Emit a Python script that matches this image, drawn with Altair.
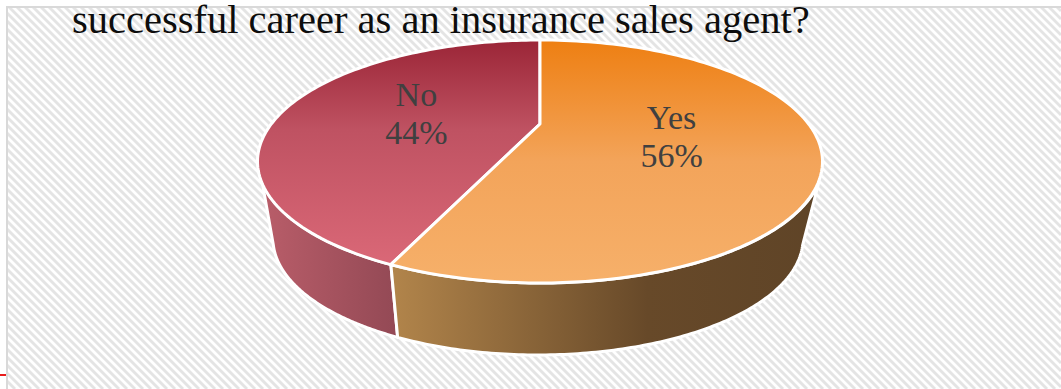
import math
import altair as alt

# Survey result shown as a tilted 3D pie
answers = ["Yes", "No"]
shares = [56, 44]
question = "successful career as an insurance sales agent?"

W, H = 1061, 389

# Top face: rim ellipse and the apparent centre of the pie under perspective
RIM_CX, RIM_CY, RIM_RX, RIM_RY = 540.5, 161.5, 282.5, 121.5
APEX_X, APEX_Y = 540.0, 124.0
# Base of the pie
BASE_CX, BASE_CY, BASE_RX, BASE_RY = 538.0, 239.0, 265.0, 116.0
# Where the side wall silhouette leaves the rim, measured on the ellipse (deg)
SIL_RIM, SIL_BASE_R, SIL_BASE_L = 10.0, 3.0, 177.0

_top, _bot = APEX_Y - (RIM_CY - RIM_RY), (RIM_CY + RIM_RY) - APEX_Y
K = (_bot - _top) / (_bot + _top)
B = _top * (1 + K)
A = RIM_RX * math.sqrt(1 - K * K)


def project(theta_deg, r=1.0):
    """Pie-plane polar coordinates (clockwise from the top) to the page."""
    th = math.radians(theta_deg + 1.9 * math.sin(math.radians(theta_deg / 2)))
    u, v = r * math.sin(th), r * math.cos(th)
    w = 1 + K * v
    return [APEX_X + A * u / w, APEX_Y - B * v / w]


def rim_alpha(theta_deg):
    x, y = project(theta_deg)
    return math.degrees(math.atan2((y - RIM_CY) / RIM_RY, (x - RIM_CX) / RIM_RX))


def on_rim(a):
    a = math.radians(a)
    return [RIM_CX + RIM_RX * math.cos(a), RIM_CY + RIM_RY * math.sin(a)]


def on_base(a):
    a = math.radians(a)
    return [BASE_CX + BASE_RX * math.cos(a), BASE_CY + BASE_RY * math.sin(a)]


def steps(a, b, n=120):
    return [a + (b - a) * i / n for i in range(n + 1)]


def feature(kind, coords):
    return {"type": "Feature", "properties": {},
            "geometry": {"type": kind, "coordinates": coords}}


def polygon(points):
    return alt.Data(values=[feature("Polygon", [points + [points[0]]])])


def gradient(x2, y2, stops):
    return alt.Gradient(
        gradient="linear", x1=0, y1=0, x2=x2, y2=y2,
        stops=[alt.GradientStop(offset=o, color=c) for o, c in stops],
    )


PROJ = dict(type="identity", scale=1, translate=[0, 0])

# Sweep boundaries, clockwise from twelve o'clock
cut = 360 * shares[0] / sum(shares)
cut_alpha = rim_alpha(cut)

# Faces
yes_top = [[APEX_X, APEX_Y]] + [project(t) for t in steps(0, cut)]
no_top = [[APEX_X, APEX_Y]] + [project(t) for t in steps(cut, 360)]

# Walls
yes_wall = [on_rim(a) for a in steps(SIL_RIM, cut_alpha)] + [
    on_base(a) for a in steps(cut_alpha, SIL_BASE_R)
]
no_wall = [on_rim(a) for a in steps(cut_alpha, 180 - SIL_RIM)] + [
    on_base(a) for a in steps(SIL_BASE_L, cut_alpha)
]

# Backdrop: frame and diagonal hatch
FX, FY = 7.0, 7.0
PITCH = 8.0
hatch = []
c = FX - H
while c < W:
    x0 = max(FX, FY + c)
    x1 = min(float(W), H + c)
    if x1 > x0:
        hatch.append([[x0, x0 - c], [x1, x1 - c]])
    c += PITCH
frame = [[[FX, H], [FX, FY], [W, FY]]]
tick = [[[0, 375], [FX - 1, 375]]]

back = alt.Chart(alt.Data(values=[feature("MultiLineString", hatch)])).mark_geoshape(
    filled=False, stroke="#e4e4e4", strokeWidth=2.9
).project(**PROJ)
frame_l = alt.Chart(alt.Data(values=[feature("MultiLineString", frame)])).mark_geoshape(
    filled=False, stroke="#d9d9d9", strokeWidth=2
).project(**PROJ)
tick_l = alt.Chart(alt.Data(values=[feature("MultiLineString", tick)])).mark_geoshape(
    filled=False, stroke="#e81c1c", strokeWidth=2
).project(**PROJ)


def face(points, fill, stroke_width=3):
    return alt.Chart(polygon(points)).mark_geoshape(
        fill=fill, stroke="white", strokeWidth=stroke_width, strokeJoin="round"
    ).project(**PROJ)


wall_yes = face(yes_wall, gradient(1, 0, [(0, "#b2854b"), (0.6, "#674929"), (1, "#5f4427")]))
wall_no = face(no_wall, gradient(1, 0, [(0, "#b95d69"), (1, "#934955")]))
top_yes = face(yes_top, gradient(0, 1, [(0, "#ee7f12"), (0.5, "#f3a45a"), (1, "#f6b06a")]))
top_no = face(no_top, gradient(0, 1, [(0, "#9b2537"), (0.4, "#bf5262"), (1, "#da6877")]))

# Labels sit on each slice's middle angle
LABEL_R = 0.485
LINE_HEIGHT = 38
mids = [cut / 2, (cut + 360) / 2]
labels = []
for name, share, mid in zip(answers, shares, mids):
    lx, ly = project(mid, LABEL_R)
    labels.append({"lon": lx, "lat": ly, "text": f"{name}\n{share}%"})

label_l = alt.Chart(alt.Data(values=labels)).mark_text(
    font="Liberation Serif", fontSize=34, color="#404040",
    lineBreak="\n", lineHeight=LINE_HEIGHT, align="center", baseline="middle",
    dy=-17,
).encode(
    longitude="lon:Q", latitude="lat:Q", text="text:N"
).project(**PROJ)

title_l = alt.Chart(alt.Data(values=[{"lon": 72, "lat": 33, "text": question}])).mark_text(
    font="Liberation Serif", fontSize=40.5, color="#0d0d0d", align="left", baseline="alphabetic",
).encode(
    longitude="lon:Q", latitude="lat:Q", text="text:N"
).project(**PROJ)

chart = alt.layer(
    back, frame_l, tick_l, wall_no, wall_yes, top_no, top_yes, label_l, title_l
).properties(
    width=W, height=H, padding=0, background="white",
    autosize=alt.AutoSizeParams(type="none"),
).configure_view(stroke=None)

chart.save("out.html", embed_options={"renderer": "svg", "actions": False})
